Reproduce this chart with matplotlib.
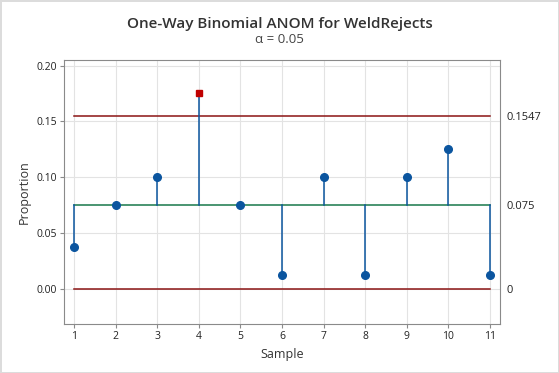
#!/usr/bin/env python

'''One-way binomial ANOM chart for WeldRejects.'''

import matplotlib
matplotlib.use('Agg')
import matplotlib.pyplot as plt

########################################################################
# Data

samples = [1, 2, 3, 4, 5, 6, 7, 8, 9, 10, 11]
proportions = [0.0375, 0.075, 0.1, 0.175, 0.075, 0.0125, 0.1, 0.0125, 0.1, 0.125, 0.0125]
center = 0.075
udl = 0.1547
ldl = 0.0
right_labels = ['0', '0.075', '0.1547']

########################################################################
# Styling

BLUE = '#0b559f'
RED = '#c00000'
DARK_RED = '#8b1414'
GREEN = '#18784a'
SPINE = '#8a8a8a'
TEXT = '#333333'

plt.rcParams['font.family'] = ['Open Sans', 'DejaVu Sans']

fig = plt.figure(figsize=(5.59, 3.73), dpi=100)
fig.patch.set_edgecolor('#dcdcdc')
fig.patch.set_linewidth(2)
ax = fig.add_axes([0.1145, 0.1306, 0.78, 0.7085])

# decision limits and center line
ax.plot([samples[0], samples[-1]], [udl, udl], color=DARK_RED, lw=1.1, zorder=3)
ax.plot([samples[0], samples[-1]], [ldl, ldl], color=DARK_RED, lw=1.1, zorder=3)
ax.plot([samples[0], samples[-1]], [center, center], color=GREEN, lw=1.1, zorder=3)

# stems from the center line
for x, p in zip(samples, proportions):
    ax.plot([x, x], [center, p], color=BLUE, lw=1.1, zorder=4)

inside = [(x, p) for x, p in zip(samples, proportions) if ldl <= p <= udl]
outside = [(x, p) for x, p in zip(samples, proportions) if not (ldl <= p <= udl)]
ax.plot([x for x, _ in inside], [p for _, p in inside], 'o', color=BLUE,
        ms=5.5, zorder=5)
ax.plot([x for x, _ in outside], [p for _, p in outside], 's', color=RED,
        ms=5, zorder=5)

ax.set_xlim(0.76, 11.24)
ax.set_ylim(-0.032, 0.205)
ax.set_xticks(samples)
ax.set_yticks([0.0, 0.05, 0.10, 0.15, 0.20])
ax.set_yticklabels(['0.00', '0.05', '0.10', '0.15', '0.20'])
ax.grid(True, color='#e3e3e3', lw=0.8, zorder=0)
ax.set_axisbelow(True)
for s in ax.spines.values():
    s.set_color(SPINE)
ax.tick_params(colors=SPINE, labelcolor='#222222', labelsize=7.5, length=3, pad=2)

ax.set_xlabel('Sample', fontsize=9, color=TEXT, labelpad=4)
ax.set_ylabel('Proportion', fontsize=9, color=TEXT, labelpad=4)

# limit values on the right
ax2 = ax.twinx()
ax2.set_ylim(ax.get_ylim())
ax2.set_yticks([ldl, center, udl])
ax2.set_yticklabels(right_labels)
ax2.tick_params(length=0, labelsize=8, labelcolor='#222222', pad=5)
for s in ax2.spines.values():
    s.set_visible(False)

fig.text(0.5, 0.925, 'One-Way Binomial ANOM for WeldRejects', ha='center',
         fontsize=11, fontweight='semibold', color=TEXT)
fig.text(0.5, 0.885, '\u03b1 = 0.05', ha='center', fontsize=9.5, color='#444444')

plt.savefig('out.png', dpi=100)
